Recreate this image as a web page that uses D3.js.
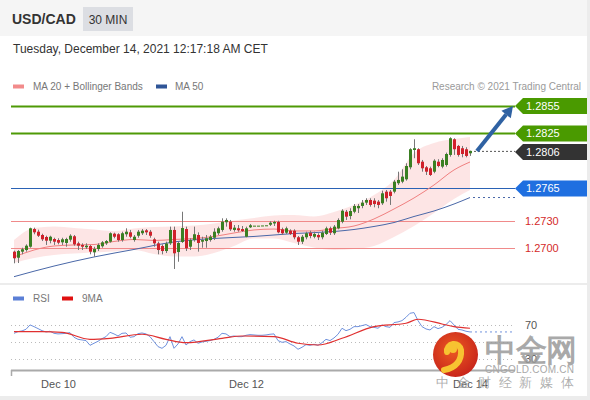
<!DOCTYPE html>
<html><head><meta charset="utf-8">
<script src="https://cdn.jsdelivr.net/npm/d3@7"></script>
<style>body{margin:0;background:#ececec}svg{display:block}text{font-family:"Liberation Sans",Arial,sans-serif}</style>
</head><body><svg id="c" width="590" height="400"></svg>
<script>
const open=[1.26960,1.26894,1.26960,1.26978,1.27014,1.27207,1.27178,1.27142,1.27120,1.27080,
1.27098,1.27087,1.27062,1.27055,1.27091,1.27128,1.27051,1.27033,1.27008,1.27022,
1.26953,1.26989,1.27019,1.27051,1.27069,1.27156,1.27150,1.27087,1.27150,1.27171,
1.27087,1.27134,1.27161,1.27193,1.27178,1.27095,1.27051,1.27022,1.26967,1.27051,
1.27197,1.26956,1.27066,1.27207,1.27014,1.27087,1.27142,1.27069,1.27076,1.27087,
1.27112,1.27161,1.27197,1.27281,1.27287,1.27197,1.27215,1.27207,1.27123,1.27226,
1.27244,1.27244,1.27246,1.27248,1.27254,1.27268,1.27284,1.27204,1.27167,1.27189,
1.27189,1.27117,1.27069,1.27117,1.27167,1.27123,1.27142,1.27117,1.27153,1.27215,
1.27161,1.27215,1.27287,1.27396,1.27349,1.27396,1.27434,1.27459,1.27495,1.27524,
1.27517,1.27506,1.27488,1.27615,1.27615,1.27615,1.27707,1.27724,1.27750,1.27881,
1.28070,1.28078,1.27942,1.27881,1.27870,1.27833,1.27942,1.27888,1.27906,1.28016,
1.28187,1.28114,1.28089,1.28078,1.28034];
const high=[1.26971,1.26978,1.27003,1.27040,1.27222,1.27222,1.27200,1.27156,1.27134,1.27134,
1.27112,1.27106,1.27112,1.27112,1.27150,1.27142,1.27069,1.27051,1.27051,1.27033,
1.27014,1.27051,1.27076,1.27087,1.27171,1.27167,1.27161,1.27178,1.27215,1.27197,
1.27142,1.27197,1.27207,1.27207,1.27197,1.27112,1.27069,1.27040,1.27069,1.27233,
1.27233,1.27069,1.27396,1.27233,1.27106,1.27233,1.27171,1.27123,1.27142,1.27142,
1.27215,1.27233,1.27324,1.27324,1.27306,1.27251,1.27251,1.27240,1.27233,1.27262,
1.27244,1.27244,1.27246,1.27248,1.27292,1.27298,1.27298,1.27222,1.27233,1.27204,
1.27204,1.27131,1.27142,1.27178,1.27189,1.27178,1.27161,1.27189,1.27233,1.27233,
1.27251,1.27324,1.27423,1.27415,1.27434,1.27480,1.27480,1.27524,1.27543,1.27543,
1.27543,1.27524,1.27626,1.27633,1.27633,1.27743,1.27833,1.27859,1.27925,1.28089,
1.28187,1.28089,1.27961,1.27895,1.27888,1.27969,1.27969,1.27980,1.28041,1.28209,
1.28198,1.28125,1.28114,1.28100,1.28063];
const low=[1.26833,1.26836,1.26931,1.26960,1.27003,1.27150,1.27120,1.27076,1.27033,1.27051,
1.27033,1.27040,1.27033,1.27014,1.27069,1.27025,1.26978,1.26978,1.26989,1.26931,
1.26905,1.26967,1.27003,1.27033,1.27058,1.27106,1.27069,1.27069,1.27123,1.27106,
1.27069,1.27112,1.27142,1.27142,1.27112,1.27014,1.26931,1.26931,1.26945,1.27033,
1.26771,1.26850,1.27055,1.26967,1.26978,1.27069,1.26960,1.27003,1.27003,1.27069,
1.27087,1.27142,1.27178,1.27233,1.27186,1.27178,1.27178,1.27175,1.27117,1.27218,
1.27244,1.27244,1.27246,1.27248,1.27240,1.27240,1.27161,1.27142,1.27153,1.27142,
1.27095,1.27033,1.27044,1.27095,1.27106,1.27106,1.27087,1.27095,1.27142,1.27142,
1.27142,1.27204,1.27270,1.27306,1.27313,1.27379,1.27382,1.27434,1.27470,1.27451,
1.27444,1.27434,1.27470,1.27506,1.27470,1.27597,1.27688,1.27707,1.27735,1.27859,
1.27980,1.27906,1.27833,1.27797,1.27786,1.27816,1.27881,1.27870,1.27888,1.27997,
1.28016,1.27997,1.27990,1.27990,1.28005];
const close=[1.26888,1.26967,1.26986,1.27025,1.27215,1.27171,1.27134,1.27095,1.27080,1.27123,
1.27069,1.27058,1.27095,1.27098,1.27134,1.27040,1.27025,1.27014,1.27025,1.26960,
1.26989,1.27033,1.27062,1.27076,1.27161,1.27123,1.27087,1.27161,1.27178,1.27123,
1.27123,1.27178,1.27189,1.27171,1.27134,1.27051,1.26978,1.26967,1.27049,1.27197,
1.26942,1.27055,1.27218,1.26997,1.27087,1.27150,1.27055,1.27087,1.27106,1.27123,
1.27178,1.27215,1.27287,1.27306,1.27204,1.27222,1.27193,1.27186,1.27215,1.27248,
1.27244,1.27244,1.27246,1.27248,1.27276,1.27284,1.27171,1.27161,1.27215,1.27153,
1.27117,1.27069,1.27123,1.27161,1.27131,1.27153,1.27117,1.27167,1.27215,1.27167,
1.27233,1.27306,1.27407,1.27342,1.27404,1.27459,1.27459,1.27495,1.27524,1.27470,
1.27480,1.27470,1.27597,1.27543,1.27568,1.27724,1.27743,1.27779,1.27895,1.28078,
1.28089,1.27925,1.27870,1.27833,1.27797,1.27953,1.27895,1.27961,1.28026,1.28198,
1.28078,1.28016,1.28026,1.28005,1.28060];

const bandIdx=[0,5,10,15,20,25,30,35,40,45,50,55,60,65,70,75,80,85,90,95,100,105,110,114];
const ma20=[1.26902,1.26978,1.27022,1.27033,1.27038,1.27071,1.27093,1.27082,1.27093,1.27104,1.27126,1.27164,
1.27197,1.27207,1.27186,1.27186,1.27213,1.27240,1.27317,1.27426,1.27546,1.27688,1.27852,1.27939];
const bbUpper=[1.27087,1.27218,1.27235,1.27218,1.27202,1.27186,1.27213,1.27229,1.27235,1.27246,1.27268,1.27300,
1.27328,1.27355,1.27360,1.27344,1.27393,1.27470,1.27579,1.27743,1.28037,1.28147,1.28190,1.28212];
const bbLower=[1.26836,1.26891,1.26924,1.26940,1.26951,1.26962,1.26978,1.26934,1.26907,1.26907,1.26945,1.27022,
1.27104,1.27104,1.27055,1.27005,1.26978,1.26989,1.27022,1.27120,1.27240,1.27382,1.27535,1.27633];
const ma50Idx=[0,10,20,30,40,50,60,70,80,85,90,95,100,105,110,114];
const ma50=[1.26687,1.26803,1.26902,1.26984,1.27066,1.27104,1.27126,1.27158,1.27180,1.27202,1.27235,1.27278,1.27344,1.27404,1.27480,1.27551];

const rsi=[60.3,62.3,63.1,65.0,70.1,68.1,65.8,63.4,61.9,62.7,
60.3,59.6,59.9,60.3,61.1,55.7,53.3,52.6,51.8,46.3,
48.7,51.0,54.1,56.4,61.5,59.6,57.2,60.3,60.7,55.7,
56.4,59.9,60.7,59.6,56.4,50.6,44.8,42.8,46.3,56.4,
42.8,47.9,56.4,46.7,50.6,52.6,48.7,50.2,51.0,51.8,
53.3,55.7,60.3,59.6,56.4,57.2,56.4,56.4,58.0,58.8,
58.4,58.0,58.0,58.4,59.2,59.6,51.8,49.8,50.6,47.9,
45.6,41.7,44.0,47.1,46.3,47.5,46.3,49.4,53.3,51.8,
54.9,59.2,66.2,63.4,65.0,68.1,68.1,69.3,70.5,68.1,
67.3,66.2,70.1,68.1,67.3,72.8,73.6,75.1,79.0,83.7,
84.5,75.1,68.1,65.4,64.2,68.1,65.8,67.3,70.5,75.1,
70.1,65.0,64.2,62.7,61.9];
const rsiMaIdx=[0,7,12,19,24,32,38,43,52,57,65,71,76,82,90,98,101,107,110,114];
const rsiMa=[62.3,62.3,61.5,53.3,54.5,59.2,53.3,49.4,54.5,57.2,56.4,48.7,46.7,54.5,68.1,72.0,76.7,71.2,68.1,66.2];

const levelValues=[1.2855,1.2825,1.2806,1.2765,1.2730,1.2700];
const levelKinds=["resistance","resistance","last","pivot","support","support"];
const levelLabels=["1.2855","1.2825","1.2806","1.2765","1.2730","1.2700"];
const xTickIdx=[11,58,114];
const xTickLabels=["Dec 10","Dec 12","Dec 14"];
const rsiGrid=[70,50,30];
const rsiTickLabels=[70,30];

const svg=d3.select("#c");
const x=d3.scaleLinear().domain([0,114]).range([14,470]);
const y=d3.scaleLinear().domain([1.2700,1.2855]).range([248,106]);
const ry=d3.scaleLinear().domain([30,70]).range([359.3,325]);
const LX0=11, LX1=515;

// backgrounds
svg.append("rect").attr("width",590).attr("height",400).attr("fill","#ececec");
svg.append("rect").attr("x",0).attr("y",0).attr("width",587).attr("height",36).attr("fill","#f5f5f5");
svg.append("rect").attr("x",0).attr("y",36).attr("width",587).attr("height",247).attr("fill","#fff");
svg.append("rect").attr("x",0).attr("y",285).attr("width",587).attr("height",111).attr("fill","#fff");

// header
svg.append("text").attr("x",12).attr("y",24).attr("font-size",14).attr("font-weight","bold").attr("fill","#333").text("USD/CAD");
svg.append("rect").attr("x",83).attr("y",7).attr("width",50).attr("height",24).attr("fill","#dcdee3");
svg.append("text").attr("x",108).attr("y",23.5).attr("text-anchor","middle").attr("font-size",12).attr("fill","#333").text("30 MIN");
svg.append("text").attr("x",13).attr("y",53).attr("font-size",12).attr("fill","#333").text("Tuesday, December 14, 2021 12:17:18 AM CET");

// legend
svg.append("rect").attr("x",13).attr("y",84.5).attr("width",11).attr("height",4).attr("fill","#f28b8b");
svg.append("text").attr("x",33).attr("y",90).attr("font-size",10).attr("fill","#777").text("MA 20 + Bollinger Bands");
svg.append("rect").attr("x",156).attr("y",84.5).attr("width",11).attr("height",4).attr("fill","#2f5597");
svg.append("text").attr("x",175).attr("y",90).attr("font-size",10).attr("fill","#777").text("MA 50");
svg.append("text").attr("x",581).attr("y",90).attr("text-anchor","end").attr("font-size",10).attr("fill","#9a9a9a").text("Research \u00a9 2021 Trading Central");

// bollinger band
const bandPts=bandIdx.map((d,k)=>({i:d,u:bbUpper[k],l:bbLower[k],m:ma20[k]}));
svg.append("path").datum(bandPts).attr("fill","#fcdcdc").attr("fill-opacity",0.75)
  .attr("d",d3.area().curve(d3.curveMonotoneX).x(d=>x(d.i)).y0(d=>y(d.l)).y1(d=>y(d.u)));

// level lines
const lvlColor={resistance:"#4e9a06",last:"#333",pivot:"#2a62b5",support:"#f08a8a"};
levelValues.forEach((v,k)=>{
  const kind=levelKinds[k], yy=Math.round(y(v))+0.5;
  if(kind==="last") return;
  svg.append("line").attr("x1",LX0).attr("x2",LX1).attr("y1",yy).attr("y2",yy)
    .attr("stroke",lvlColor[kind]).attr("stroke-width",kind==="resistance"?2:1);
});

svg.append("path").datum(bandPts).attr("fill","none").attr("stroke","#f08080").attr("stroke-width",1)
  .attr("d",d3.line().curve(d3.curveMonotoneX).x(d=>x(d.i)).y(d=>y(d.m)));
const ma50Pts=ma50Idx.map((d,k)=>({i:d,v:ma50[k]}));
svg.append("path").datum(ma50Pts).attr("fill","none").attr("stroke","#4a68a8").attr("stroke-width",1)
  .attr("d",d3.line().curve(d3.curveMonotoneX).x(d=>x(d.i)).y(d=>y(d.v)));
svg.append("line").attr("x1",x(114)+3).attr("x2",LX1).attr("y1",y(ma50[ma50.length-1])).attr("y2",y(ma50[ma50.length-1]))
  .attr("stroke","#4a68a8").attr("stroke-dasharray","2,3");

// candles
const g=svg.append("g");
open.forEach((o,i)=>{
  const c=close[i], up=c>=o, col=up?"#3a7f22":"#d0202a";
  const cx=Math.round(x(i));
  g.append("line").attr("x1",cx+0.5).attr("x2",cx+0.5).attr("y1",y(high[i])).attr("y2",y(low[i]))
    .attr("stroke","#777").attr("stroke-width",1);
  const top=y(Math.max(o,c)), h=Math.max(1,Math.abs(y(o)-y(c)));
  g.append("rect").attr("x",cx-1).attr("y",top).attr("width",3).attr("height",h).attr("fill",col);
});

// last price dotted line
const lastY=y(close[close.length-1]);
svg.append("line").attr("x1",x(114)+4).attr("x2",LX1).attr("y1",lastY+0.5).attr("y2",lastY+0.5)
  .attr("stroke","#555").attr("stroke-dasharray","2,2");

// arrow toward target
const ax0=x(114)+7, ay0=lastY, ax1=LX1-2, ay1=y(levelValues[0]);
const ang=Math.atan2(ay1-ay0,ax1-ax0);
const hx=ax1-11*Math.cos(ang), hy=ay1-11*Math.sin(ang);
svg.append("line").attr("x1",ax0).attr("y1",ay0).attr("x2",hx).attr("y2",hy).attr("stroke","#2f62a3").attr("stroke-width",4);
const px=-Math.sin(ang), py=Math.cos(ang);
svg.append("path").attr("fill","#2f62a3")
  .attr("d",`M${ax1},${ay1} L${hx+6*px},${hy+6*py} L${hx-6*px},${hy-6*py} Z`);

// level labels
const tagColor={resistance:"#4a9a00",last:"#333333",pivot:"#1f6fe0"};
levelValues.forEach((v,k)=>{
  const kind=levelKinds[k]; let yy=y(v); if(kind==="last") yy+=1;
  if(kind==="support"){
    svg.append("text").attr("x",525).attr("y",yy+4).attr("font-size",11).attr("fill","#d42a2a").text(levelLabels[k]);
  } else {
    svg.append("path").attr("fill",tagColor[kind])
      .attr("d",`M515,${yy} L523,${yy-8} L587,${yy-8} L587,${yy+8} L523,${yy+8} Z`);
    svg.append("text").attr("x",526).attr("y",yy+4).attr("font-size",11).attr("fill","#fff").text(levelLabels[k]);
  }
});

// RSI panel
svg.append("rect").attr("x",13).attr("y",296.5).attr("width",11).attr("height",4).attr("fill","#5b7fd6");
svg.append("text").attr("x",33).attr("y",302).attr("font-size",10).attr("fill","#777").text("RSI");
svg.append("rect").attr("x",62).attr("y",296.5).attr("width",11).attr("height",4).attr("fill","#e01010");
svg.append("text").attr("x",82).attr("y",302).attr("font-size",10).attr("fill","#777").text("9MA");
rsiGrid.forEach(v=>{
  svg.append("line").attr("x1",LX0).attr("x2",LX1).attr("y1",Math.round(ry(v))+0.5).attr("y2",Math.round(ry(v))+0.5)
    .attr("stroke","#bbb").attr("stroke-dasharray","1,3");
});
rsiTickLabels.forEach(v=>{
  svg.append("text").attr("x",525).attr("y",ry(v)+4).attr("font-size",11).attr("fill","#555").text(v);
});
svg.append("path").datum(rsi).attr("fill","none").attr("stroke","#7092dd").attr("stroke-width",1)
  .attr("d",d3.line().x((d,i)=>x(i)).y(d=>ry(d)));
svg.append("line").attr("x1",x(114)).attr("x2",LX1).attr("y1",ry(rsi[114])).attr("y2",ry(rsi[114]))
  .attr("stroke","#7092dd").attr("stroke-dasharray","2,3");
const rmPts=rsiMaIdx.map((d,k)=>({i:d,v:rsiMa[k]}));
svg.append("path").datum(rmPts).attr("fill","none").attr("stroke","#e03030").attr("stroke-width",1.2)
  .attr("d",d3.line().curve(d3.curveMonotoneX).x(d=>x(d.i)).y(d=>ry(d.v)));

// x axis
const xa=d3.axisBottom(d3.scaleLinear().domain([0,114]).range([14,470])).tickValues(xTickIdx)
  .tickFormat((d,k)=>xTickLabels[k]).tickSize(0).tickPadding(10);
const axG=svg.append("g").attr("transform","translate(0,370.5)").call(xa);
axG.select(".domain").remove();
axG.selectAll("text").attr("font-size",11).attr("fill","#555").attr("font-family","Liberation Sans, Arial, sans-serif");
svg.append("line").attr("x1",LX0).attr("x2",LX1).attr("y1",370.5).attr("y2",370.5).attr("stroke","#aaa").attr("stroke-width",2);
svg.append("line").attr("x1",LX0+0.5).attr("x2",LX0+0.5).attr("y1",370).attr("y2",376).attr("stroke","#aaa").attr("stroke-width",1.5);

// watermark
const wm=svg.append("g");
const grad=svg.append("defs").append("radialGradient").attr("id","wg").attr("cx","45%").attr("cy","40%").attr("r","60%");
grad.append("stop").attr("offset","0%").attr("stop-color","#ec5a22");
grad.append("stop").attr("offset","100%").attr("stop-color","#c9261b");
wm.append("circle").attr("cx",455.5).attr("cy",354.5).attr("r",22.5).attr("fill","url(#wg)");
wm.append("path").attr("fill","none").attr("stroke","#f7c331").attr("stroke-width",6).attr("stroke-linecap","round")
  .attr("d","M447,352 A7,7 0 1,1 461,350 C462,360 456,368 444,370");
wm.append("path").attr("fill","#f7c331").attr("d","M449,349 a4,4 0 1,0 8,0 a4,4 0 1,0 -8,0");
wm.append("text").attr("x",485).attr("y",361).attr("font-size",31).attr("font-weight","bold").attr("fill","#9a9a9a").attr("fill-opacity",0.85)
  .attr("font-family","Noto Sans CJK SC").attr("textLength",92).text("中金网");
wm.append("text").attr("x",485).attr("y",373).attr("font-size",10).attr("fill","#a8a8a8").attr("textLength",89).text("CNGOLD.COM.CN");
wm.append("text").attr("x",436).attr("y",387).attr("font-size",12.5).attr("fill","#a0a0a0").attr("fill-opacity",0.85)
  .attr("font-family","Noto Sans CJK SC").attr("textLength",138).text("中金财经新媒体");
</script></body></html>
